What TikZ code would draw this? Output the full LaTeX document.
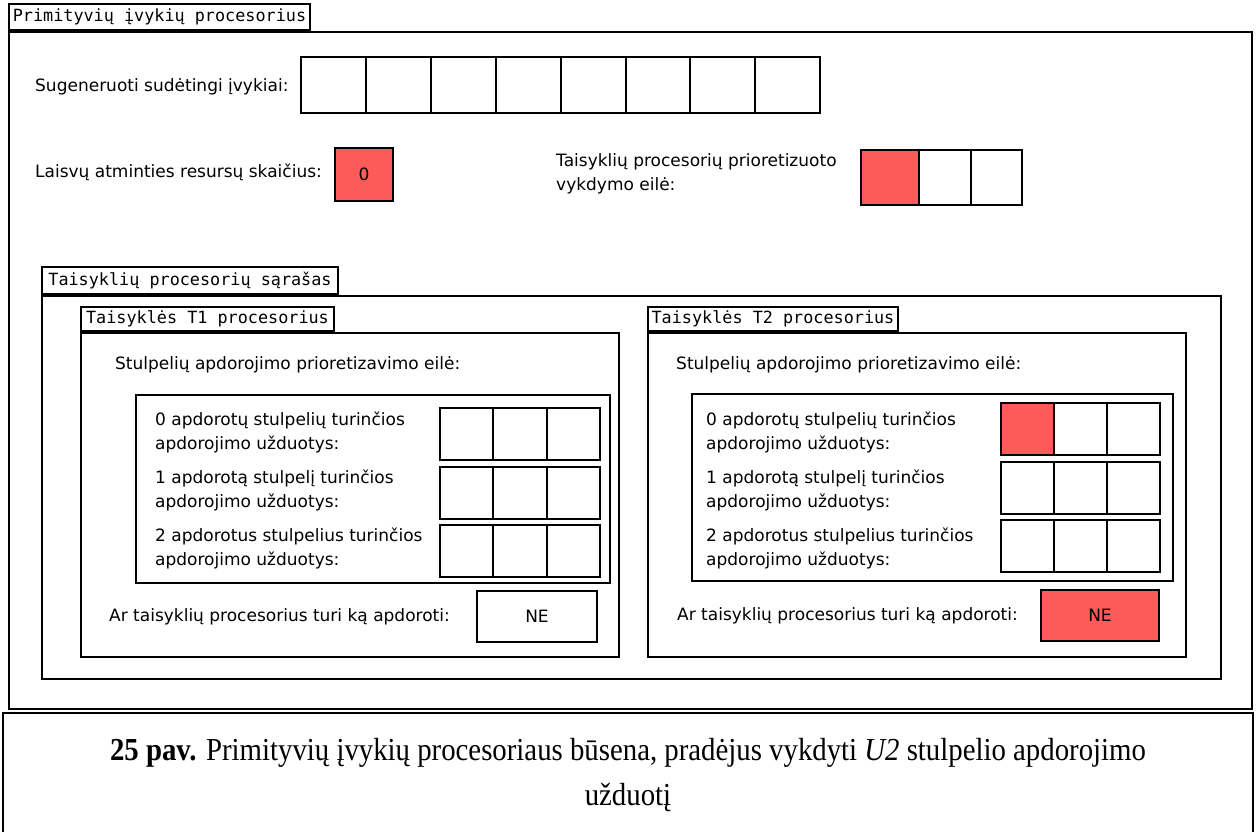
\documentclass[tikz,border=0pt]{standalone}
\usepackage{fontspec}
\setmainfont{Liberation Serif}[FakeStretch=0.9]
\setsansfont{DejaVu Sans}
\setmonofont{DejaVu Sans Mono}
\definecolor{busy}{RGB}{255,90,90}
\tikzset{
  box/.style={draw, line width=2pt, anchor=north west, inner sep=0pt},
  tabbox/.style={draw, line width=2pt, anchor=south west, inner sep=0pt,
    font=\ttfamily\fontsize{16.8}{18}\selectfont},
  lbl/.style={anchor=west, align=left, inner sep=0pt,
    font=\sffamily\fontsize{17}{24}\selectfont},
  cell/.style={box, font=\sffamily\fontsize{17}{18}\selectfont},
  on/.style={fill=busy},
}
\begin{document}
\begin{tikzpicture}[x=1pt, y=-1pt]
\useasboundingbox (0,0) rectangle (1256,832);

% outer processor frame
\node[box, minimum width=1243pt, minimum height=677pt] (main) at (8,31) {};
\node[tabbox, minimum width=301pt, minimum height=26pt] (maintab) at (8,31) {Primityvių įvykių procesorius};

% generated complex events
\node[lbl] (evlbl) at (35,87) {Sugeneruoti sudėtingi įvykiai:};
\foreach \i in {0,...,7}
  \node[cell, minimum width=64.9pt, minimum height=56pt] (ev\i) at ({300+64.9*\i},56) {};

% free memory resources
\node[lbl] (memlbl) at (35,172) {Laisvų atminties resursų skaičius:};
\node[cell, on, minimum width=58pt, minimum height=53pt] (mem) at (334,147) {0};

% prioritised execution queue
\node[lbl] (qlbl) at (556,174) {Taisyklių procesorių prioretizuoto\\vykdymo eilė:};
\node[cell, on, minimum width=58pt, minimum height=55pt] (q0) at (860,149) {};
\node[cell, minimum width=52pt, minimum height=55pt] (q1) at (918,149) {};
\node[cell, minimum width=51pt, minimum height=55pt] (q2) at (970,149) {};

% list of rule processors
\node[box, minimum width=1179pt, minimum height=383pt] (list) at (41,295) {};
\node[tabbox, minimum width=296pt, minimum height=27pt] (listtab) at (41,295) {Taisyklių procesorių sąrašas};

% ---- rule T1 processor
\node[box, minimum width=538pt, minimum height=324pt] (ta) at (80,332) {};
\node[tabbox, minimum width=253pt, minimum height=24pt] (tatab) at (80,332) {Taisyklės T1 procesorius};
\node[lbl] (tahead) at (115,365) {Stulpelių apdorojimo prioretizavimo eilė:};
\node[box, minimum width=474pt, minimum height=188pt] (tain) at (135,394) {};
\node[lbl] (tar0) at (155,432) {0 apdorotų stulpelių turinčios\\apdorojimo užduotys:};
\node[lbl] (tar1) at (155,490) {1 apdorotą stulpelį turinčios\\apdorojimo užduotys:};
\node[lbl] (tar2) at (155,548) {2 apdorotus stulpelius turinčios\\apdorojimo užduotys:};
\foreach \r/\y in {0/407,1/466,2/524}
  \foreach \c in {0,1,2}
    \node[cell, minimum width=53.3pt, minimum height=52pt] (ta\r\c) at ({439+53.3*\c},\y) {};
\node[lbl] (taask) at (109,617) {Ar taisyklių procesorius turi ką apdoroti:};
\node[cell, minimum width=120pt, minimum height=51pt] (taans) at (476,590) {NE};

% ---- rule T2 processor
\node[box, minimum width=538pt, minimum height=324pt] (tb) at (647,332) {};
\node[tabbox, minimum width=250pt, minimum height=24pt] (tbtab) at (647,332) {Taisyklės T2 procesorius};
\node[lbl] (tbhead) at (676,365) {Stulpelių apdorojimo prioretizavimo eilė:};
\node[box, minimum width=481pt, minimum height=187pt] (tbin) at (691,393) {};
\node[lbl] (tbr0) at (706,432) {0 apdorotų stulpelių turinčios\\apdorojimo užduotys:};
\node[lbl] (tbr1) at (706,490) {1 apdorotą stulpelį turinčios\\apdorojimo užduotys:};
\node[lbl] (tbr2) at (706,548) {2 apdorotus stulpelius turinčios\\apdorojimo užduotys:};
\foreach \r/\y in {0/402,1/461,2/519}
  \foreach \c in {0,1,2}
    \node[cell, minimum width=53pt, minimum height=52pt] (tb\r\c) at ({1000+53*\c},\y) {};
\node[cell, on, minimum width=53pt, minimum height=52pt] (tbfirst) at (1000,402) {};
\node[lbl] (tbask) at (677,616) {Ar taisyklių procesorius turi ką apdoroti:};
\node[cell, on, minimum width=118pt, minimum height=51pt] (tbans) at (1040,589) {NE};

% caption
\draw[line width=1.5pt] (3,850) -- (3,713) -- (1253,713) -- (1253,850);
\node[align=center, inner sep=0pt, font=\fontsize{32}{45}\selectfont] (cap) at (628,775)
  {\textbf{25 pav.} Primityvių įvykių procesoriaus būsena, pradėjus vykdyti \textit{U2} stulpelio apdorojimo\\užduotį};
\end{tikzpicture}
\end{document}
